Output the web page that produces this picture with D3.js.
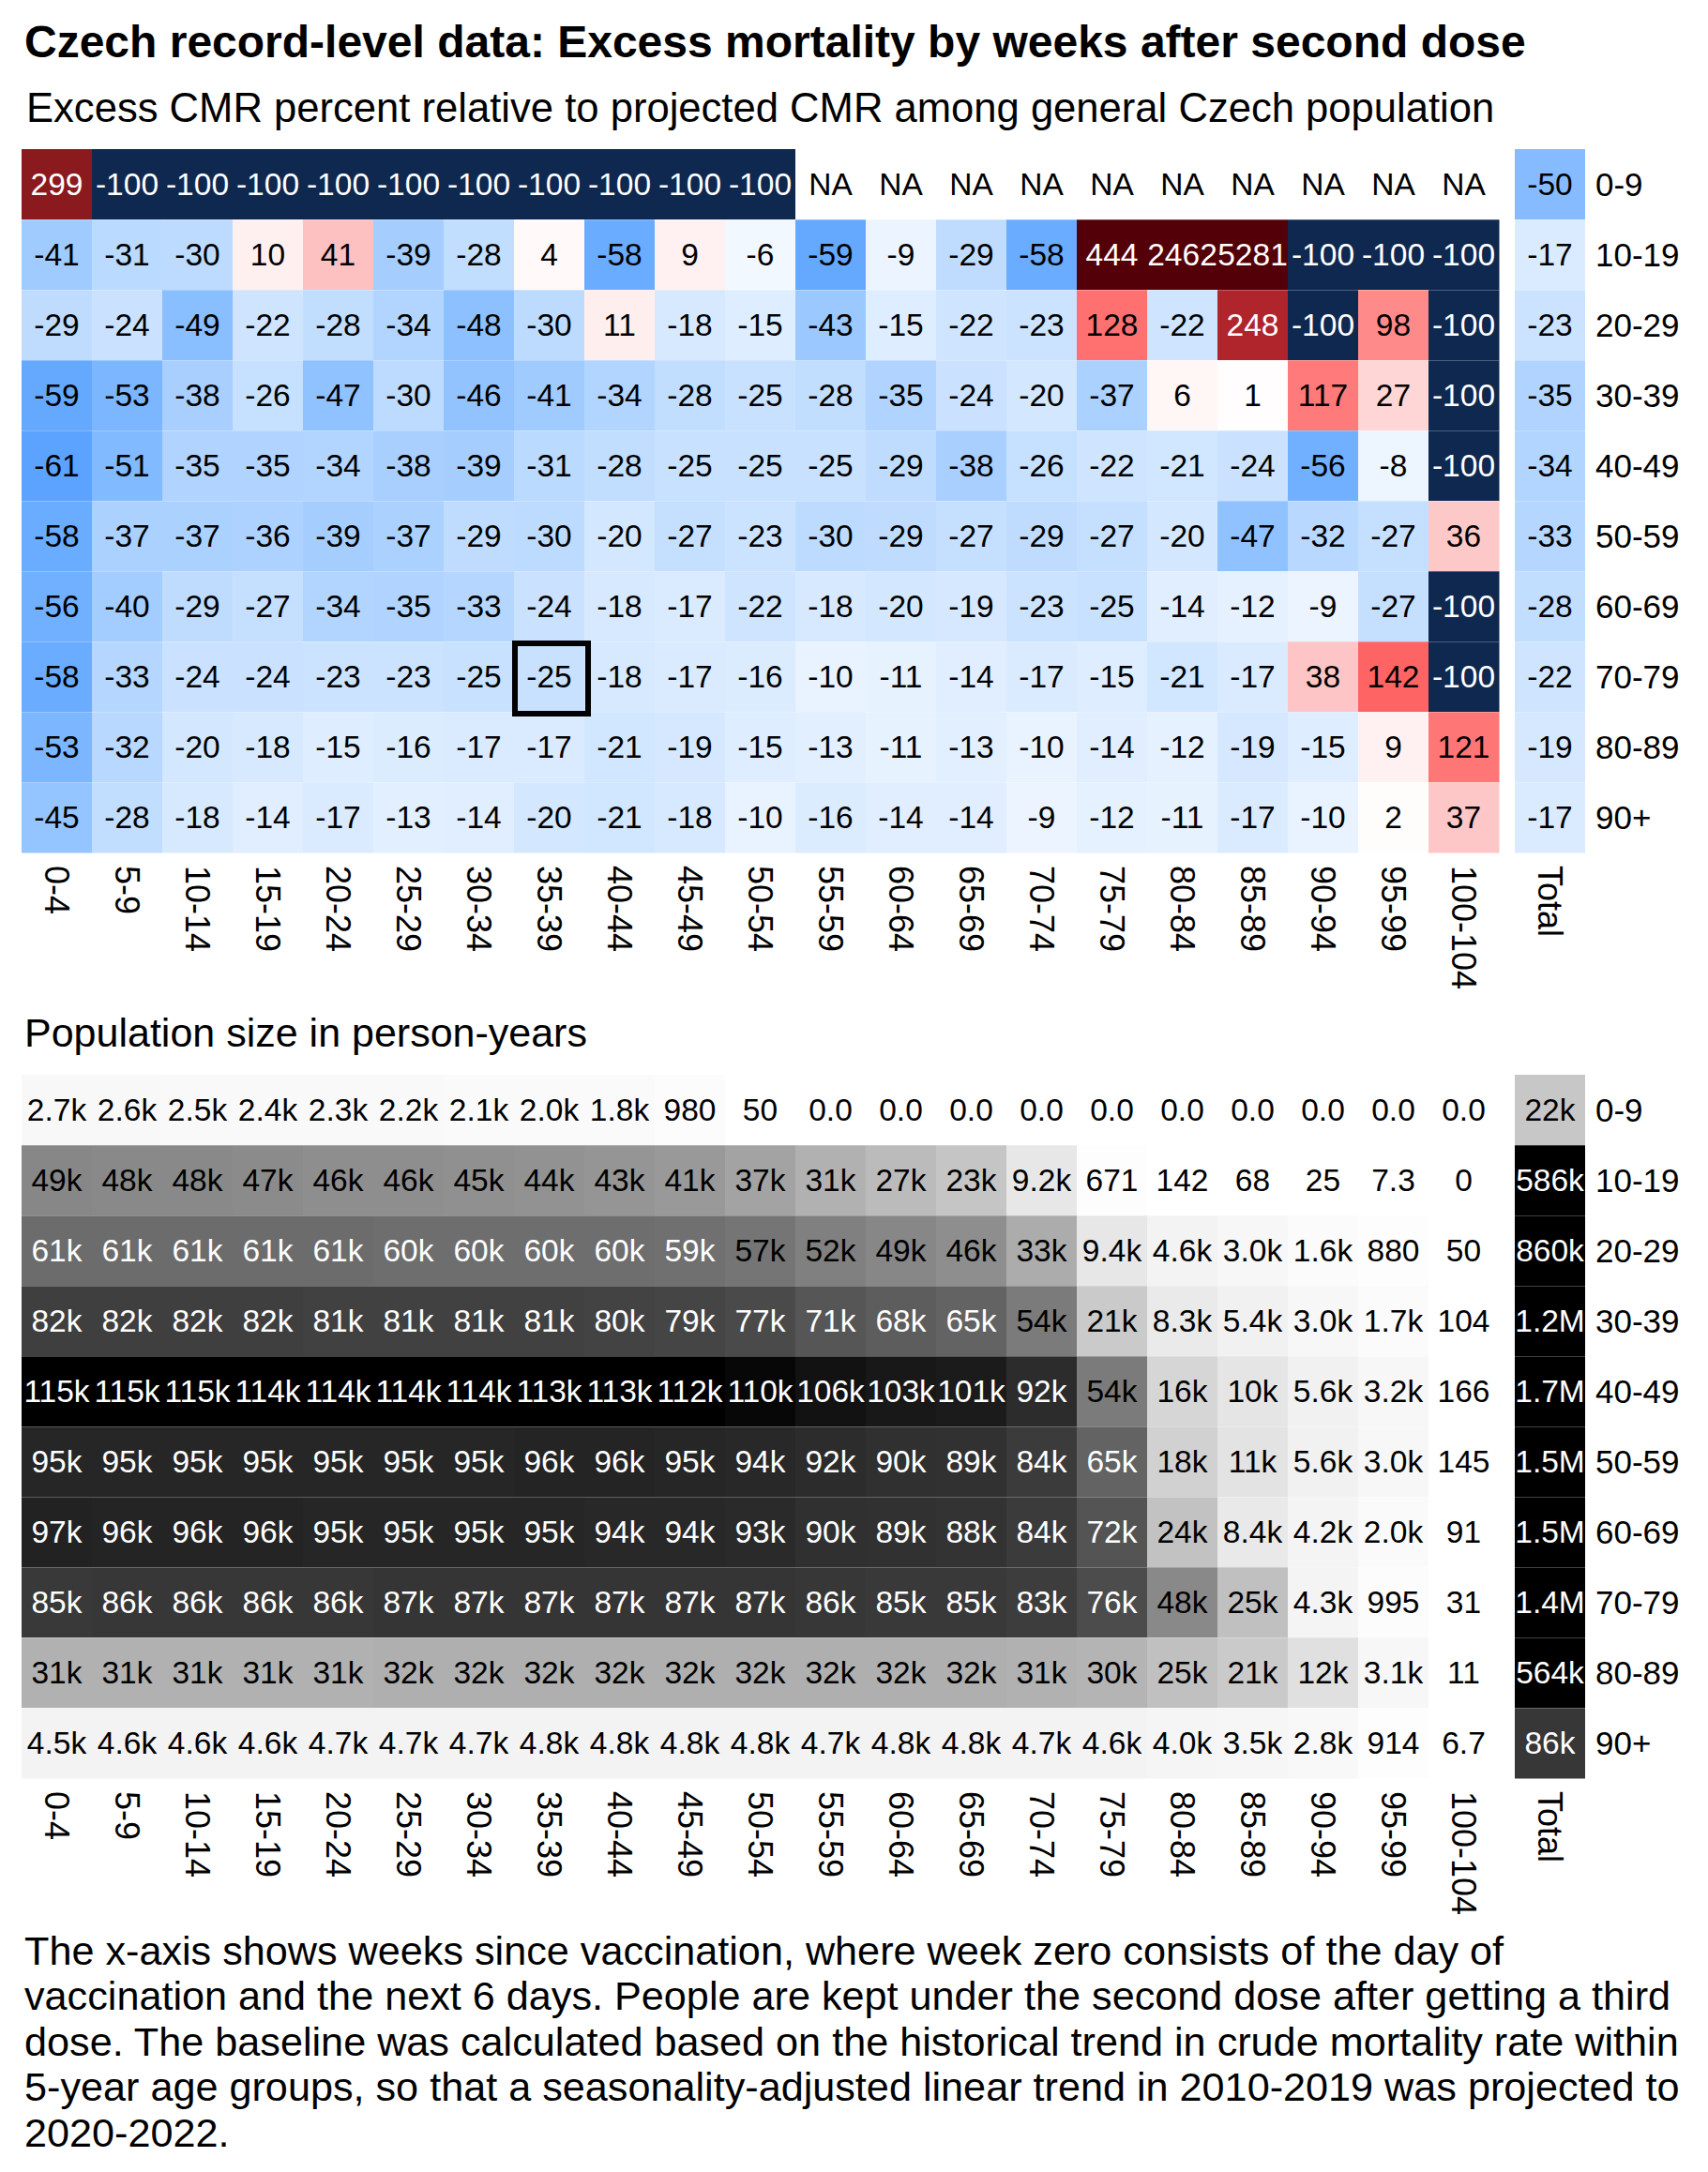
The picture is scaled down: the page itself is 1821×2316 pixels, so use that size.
<!DOCTYPE html>
<html lang="en">
<head>
<meta charset="utf-8">
<script src="https://cdn.jsdelivr.net/npm/d3@7"></script>
<style>
  body { margin: 0; background: #fff; }
  svg { display: block; font-family: "Liberation Sans", Arial, Helvetica, sans-serif; }
</style>
</head>
<body>
<script>
// categories
const weeks = ["0-4","5-9","10-14","15-19","20-24","25-29","30-34","35-39","40-44","45-49","50-54",
  "55-59","60-64","65-69","70-74","75-79","80-84","85-89","90-94","95-99","100-104"]
const ageGroups = ["0-9","10-19","20-29","30-39","40-49","50-59","60-69","70-79","80-89","90+"]

// excess CMR percent, one array per age group (null = NA)
const excess0 = [299,-100,-100,-100,-100,-100,-100,-100,-100,-100,-100,null,null,null,null,null,null,null,null,null,null]
const excess10 = [-41,-31,-30,10,41,-39,-28,4,-58,9,-6,-59,-9,-29,-58,444,2462,5281,-100,-100,-100]
const excess20 = [-29,-24,-49,-22,-28,-34,-48,-30,11,-18,-15,-43,-15,-22,-23,128,-22,248,-100,98,-100]
const excess30 = [-59,-53,-38,-26,-47,-30,-46,-41,-34,-28,-25,-28,-35,-24,-20,-37,6,1,117,27,-100]
const excess40 = [-61,-51,-35,-35,-34,-38,-39,-31,-28,-25,-25,-25,-29,-38,-26,-22,-21,-24,-56,-8,-100]
const excess50 = [-58,-37,-37,-36,-39,-37,-29,-30,-20,-27,-23,-30,-29,-27,-29,-27,-20,-47,-32,-27,36]
const excess60 = [-56,-40,-29,-27,-34,-35,-33,-24,-18,-17,-22,-18,-20,-19,-23,-25,-14,-12,-9,-27,-100]
const excess70 = [-58,-33,-24,-24,-23,-23,-25,-25,-18,-17,-16,-10,-11,-14,-17,-15,-21,-17,38,142,-100]
const excess80 = [-53,-32,-20,-18,-15,-16,-17,-17,-21,-19,-15,-13,-11,-13,-10,-14,-12,-19,-15,9,121]
const excess90 = [-45,-28,-18,-14,-17,-13,-14,-20,-21,-18,-10,-16,-14,-14,-9,-12,-11,-17,-10,2,37]
const excessTotal = [-50,-17,-23,-35,-34,-33,-28,-22,-19,-17]

// population size in person-years
const persons0 = [2700,2600,2500,2400,2300,2200,2100,2000,1800,980,50,0.001,0.001,0.001,0.001,0.001,0.001,0.001,0.001,0.001,0.001]
const persons10 = [49000,48000,48000,47000,46000,46000,45000,44000,43000,41000,37000,31000,27000,23000,9200,671,142,68,25,7.3,0]
const persons20 = [61000,61000,61000,61000,61000,60000,60000,60000,60000,59000,57000,52000,49000,46000,33000,9400,4600,3000,1600,880,50]
const persons30 = [82000,82000,82000,82000,81000,81000,81000,81000,80000,79000,77000,71000,68000,65000,54000,21000,8300,5400,3000,1700,104]
const persons40 = [115000,115000,115000,114000,114000,114000,114000,113000,113000,112000,110000,106000,103000,101000,92000,54000,16000,10000,5600,3200,166]
const persons50 = [95000,95000,95000,95000,95000,95000,95000,96000,96000,95000,94000,92000,90000,89000,84000,65000,18000,11000,5600,3000,145]
const persons60 = [97000,96000,96000,96000,95000,95000,95000,95000,94000,94000,93000,90000,89000,88000,84000,72000,24000,8400,4200,2000,91]
const persons70 = [85000,86000,86000,86000,86000,87000,87000,87000,87000,87000,87000,86000,85000,85000,83000,76000,48000,25000,4300,995,31]
const persons80 = [31000,31000,31000,31000,31000,32000,32000,32000,32000,32000,32000,32000,32000,32000,31000,30000,25000,21000,12000,3100,11]
const persons90 = [4500,4600,4600,4600,4700,4700,4700,4800,4800,4800,4800,4700,4800,4800,4700,4600,4000,3500,2800,914,6.7]
const personsTotal = [22000,586000,860000,1200000,1700000,1500000,1500000,1400000,564000,86000]

const excessRows = [excess0,excess10,excess20,excess30,excess40,excess50,excess60,excess70,excess80,excess90]
const personRows = [persons0,persons10,persons20,persons30,persons40,persons50,persons60,persons70,persons80,persons90]

// highlighted cell
const highlight = {week: "35-39", age: "70-79"}

const W = 1821, H = 2316
const svg = d3.select("body").append("svg").attr("width", W).attr("height", H)

const x = d3.scaleBand().domain(weeks).range([23, 1598])
const totalX = 1615, totalW = x.bandwidth()

const excessColor = d3.scaleLinear()
  .domain([-100, -62, -58, -47, -30, 0, 40, 98, 142, 248, 299, 444])
  .range(["#0f2850","#57a0ff","#6aacff","#90c2ff","#bddbff","#ffffff",
          "#fdc2c2","#ff8a8a","#ff6464","#b0242c","#8b1a1e","#540009"])
  .clamp(true)

const grayColor = d3.scaleLinear().domain([0, 112000]).range(["#ffffff", "#000000"])
  .interpolate(d3.interpolateLab).clamp(true)

function fmtPersons(v) {
  if (v === 0) return "0"
  if (v < 10) return v.toFixed(1)
  if (v < 1000) return String(Math.round(v))
  if (v < 10000) return (v / 1000).toFixed(1) + "k"
  if (v < 1e6) return Math.round(v / 1000) + "k"
  return (v / 1e6).toFixed(1) + "M"
}

function heatmap(top, rows, totals, fill, label, textFill) {
  const y = d3.scaleBand().domain(ageGroups).range([top, top + 750])
  const g = svg.append("g")
  const cells = []
  rows.forEach((r, i) => r.forEach((v, j) => cells.push({age: ageGroups[i], week: weeks[j], v: v})))

  g.selectAll("rect.cell").data(cells).enter().append("rect")
    .attr("x", d => x(d.week)).attr("y", d => y(d.age))
    .attr("width", x.bandwidth() + 0.5).attr("height", y.bandwidth() + 0.5)
    .attr("fill", d => d.v === null ? "#fff" : fill(d.v))

  g.selectAll("rect.tot").data(totals).enter().append("rect")
    .attr("x", totalX).attr("y", (d, i) => y(ageGroups[i]))
    .attr("width", totalW).attr("height", y.bandwidth() + 0.5)
    .attr("fill", d => fill(d))

  // faint seams between rows
  g.selectAll("line.seam").data(ageGroups.slice(1)).enter().append("line")
    .attr("x1", x.range()[0]).attr("x2", totalX + totalW)
    .attr("y1", d => y(d) + 0.5).attr("y2", d => y(d) + 0.5)
    .attr("stroke", "#fff").attr("stroke-opacity", 0.25).attr("stroke-width", 1)

  g.selectAll("text.val").data(cells).enter().append("text")
    .attr("x", d => x(d.week) + x.bandwidth() / 2)
    .attr("y", d => y(d.age) + y.bandwidth() / 2)
    .attr("text-anchor", "middle").attr("dominant-baseline", "central")
    .attr("font-size", 33.5)
    .attr("fill", d => textFill(d.v))
    .text(d => label(d.v))

  g.selectAll("text.tot").data(totals).enter().append("text")
    .attr("x", totalX + totalW / 2)
    .attr("y", (d, i) => y(ageGroups[i]) + y.bandwidth() / 2)
    .attr("text-anchor", "middle").attr("dominant-baseline", "central")
    .attr("font-size", 33.5)
    .attr("fill", d => textFill(d))
    .text(d => label(d))

  // row labels on the right
  g.selectAll("text.age").data(ageGroups).enter().append("text")
    .attr("x", 1701).attr("y", d => y(d) + y.bandwidth() / 2)
    .attr("dominant-baseline", "central").attr("font-size", 35)
    .text(d => d)

  // rotated column labels
  const labY = top + 750 + 14
  g.selectAll("text.wk").data(weeks.concat(["Total"])).enter().append("text")
    .attr("transform", d => {
      const cx = d === "Total" ? totalX + totalW / 2 : x(d) + x.bandwidth() / 2
      return "translate(" + cx + "," + labY + ") rotate(90)"
    })
    .attr("dominant-baseline", "central").attr("font-size", 36)
    .text(d => d)

  return y
}

// title + subtitle
svg.append("text").attr("x", 26).attr("y", 61)
  .attr("font-size", 48).attr("font-weight", "bold")
  .text("Czech record-level data: Excess mortality by weeks after second dose")
svg.append("text").attr("x", 28).attr("y", 130).attr("font-size", 43.6)
  .text("Excess CMR percent relative to projected CMR among general Czech population")

const y1 = heatmap(159, excessRows, excessTotal, excessColor,
  v => v === null ? "NA" : String(v),
  v => (v !== null && (v <= -100 || v >= 200)) ? "#fff" : "#000")

// highlighted cell outline
svg.append("rect")
  .attr("x", x(highlight.week) + 1).attr("y", y1(highlight.age) + 2)
  .attr("width", x.bandwidth() + 3).attr("height", y1.bandwidth())
  .attr("fill", "none").attr("stroke", "#000").attr("stroke-width", 6)

svg.append("text").attr("x", 26).attr("y", 1116).attr("font-size", 43)
  .text("Population size in person-years")

heatmap(1146, personRows, personsTotal, grayColor, fmtPersons,
  v => v > 58000 ? "#fff" : "#000")

// caption
const caption = [
  "The x-axis shows weeks since vaccination, where week zero consists of the day of",
  "vaccination and the next 6 days. People are kept under the second dose after getting a third",
  "dose. The baseline was calculated based on the historical trend in crude mortality rate within",
  "5-year age groups, so that a seasonality-adjusted linear trend in 2010-2019 was projected to",
  "2020-2022."
]
svg.append("text").attr("font-size", 43.2)
  .selectAll("tspan").data(caption).enter().append("tspan")
  .attr("x", 26).attr("y", (d, i) => 2095 + i * 48.4)
  .text(d => d)
</script>
</body>
</html>
